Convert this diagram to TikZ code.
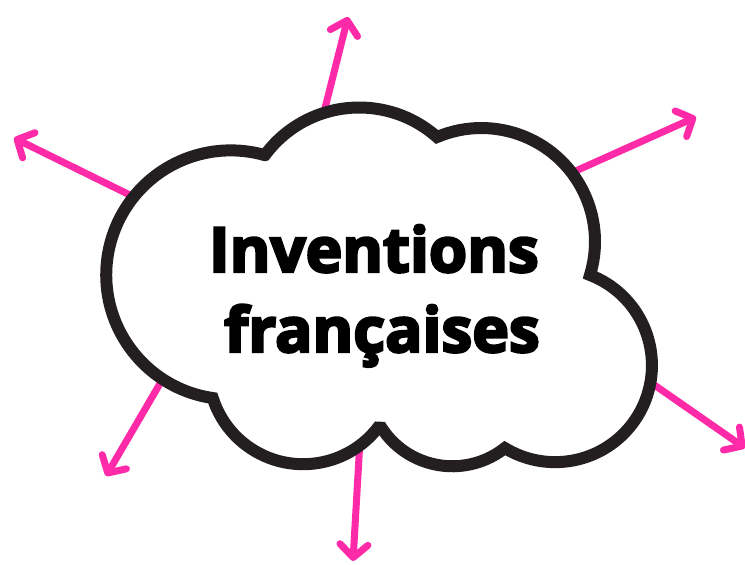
\documentclass[tikz,border=0pt]{standalone}
\usepackage{fontspec}
\setmainfont{Open Sans}
\newfontfamily\heavyfont{Open Sans}[FakeBold=4]
\usetikzlibrary{arrows.meta}
\definecolor{raypink}{HTML}{FF2AA8}
\definecolor{cloudink}{HTML}{231F20}
\begin{document}
\begin{tikzpicture}[x=1pt,y=-1pt,
  ray/.style={raypink, line width=7pt, line cap=round, -{Straight Barb[round, length=13pt, width=28pt]}},
  cloudline/.style={cloudink, line width=12pt, fill=white, miter limit=1.6},
  cloudtext/.style={font=\fontsize{62}{74}\heavyfont\bfseries, inner sep=0pt, anchor=base}]
\useasboundingbox (0,0) rectangle (745,565);
% arrows out of the cloud
\coordinate (s1) at (322,120);
\coordinate (t1) at (348,17);
\coordinate (s2) at (140,200);
\coordinate (t2) at (14,138);
\coordinate (s3) at (560,178);
\coordinate (t3) at (696,117);
\coordinate (s4) at (165,375);
\coordinate (t4) at (106,476);
\coordinate (s5) at (640,375);
\coordinate (t5) at (745,448);
\coordinate (s6) at (360,440);
\coordinate (t6) at (353,561);
\draw[ray] (s1) -- (t1);
\draw[ray] (s2) -- (t2);
\draw[ray] (s3) -- (t3);
\draw[ray] (s4) -- (t4);
\draw[ray] (s5) -- (t5);
\draw[ray] (s6) -- (t6);
% the cloud
\draw[cloudline] (265,155)
  arc[start angle=-143.5, end angle=-48.4, radius=117.2]
  arc[start angle=-113, end angle=17.1, radius=113.6]
  arc[start angle=-68.9, end angle=121.3, radius=96.8]
  arc[start angle=51.7, end angle=149.1, radius=84.6]
  arc[start angle=36, end angle=162.4, radius=94.8]
  arc[start angle=98.3, end angle=285.8, radius=124.5] -- cycle;
\node[cloudtext] (line1) at (374,272) {Inventions};
\node[cloudtext] (line2) at (382,352) {françaises};
\end{tikzpicture}
\end{document}
